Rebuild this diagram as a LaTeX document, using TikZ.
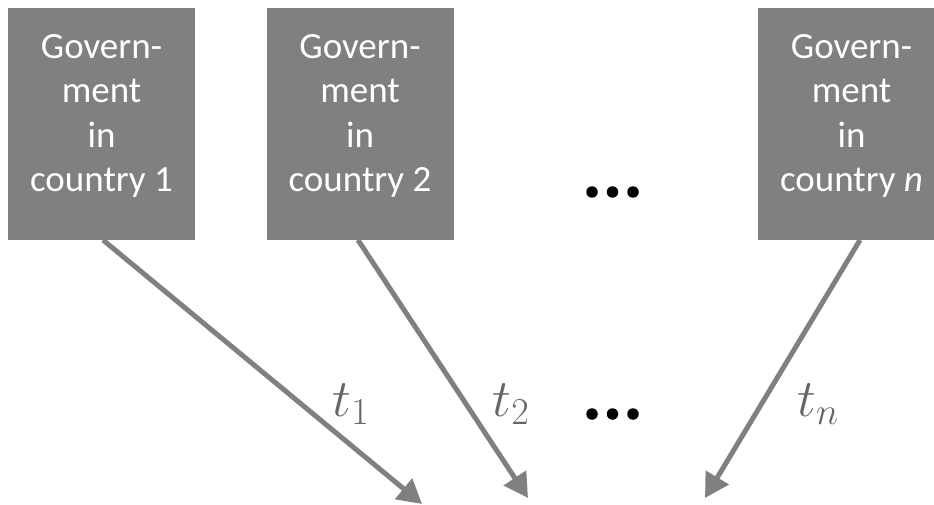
\RequirePackage{fix-cm}
\documentclass[tikz,border=0pt]{standalone}
\usepackage{fontspec}
\setmainfont{Carlito}
\usetikzlibrary{arrows.meta}
\definecolor{boxgray}{HTML}{808080}
\definecolor{labgray}{HTML}{666666}
\DeclareMathSizes{53}{53}{38}{27}
\tikzset{
  govbox/.style={rectangle, fill=boxgray, draw=none, minimum width=187pt, minimum height=232pt, inner sep=0pt},
  govtext/.style={text=white, align=center, font=\fontsize{37}{44.5}\selectfont, inner sep=0pt},
  flow/.style={draw=boxgray, line width=5pt, -{Triangle[length=24pt,width=26pt]}},
  tlab/.style={text=labgray, font=\fontsize{53}{58}\selectfont, inner sep=0pt},
  dotmark/.style={circle, fill=black, minimum size=11.5pt, inner sep=0pt}
}
\begin{document}
\begin{tikzpicture}[x=1pt,y=-1pt]
\useasboundingbox (0,0) rectangle (934,505);
\node[govbox] (b1) at (101.5,124) {};
\node[govbox] (b2) at (360,124) {};
\node[govbox] (b3) at (851.5,124) {};
\node[govtext] (g1) at (101.5,116) {Govern-\\ment\\in\\country 1};
\node[govtext] (g2) at (360,116) {Govern-\\ment\\in\\country 2};
\node[govtext] (g3) at (851.5,116) {Govern-\\ment\\in\\country \textit{n}};
% dots
\node[dotmark] (d1) at (592,192) {};
\node[dotmark] (d2) at (612.5,192) {};
\node[dotmark] (d3) at (633,192) {};
\node[dotmark] (e1) at (592,414) {};
\node[dotmark] (e2) at (612.5,414) {};
\node[dotmark] (e3) at (633,414) {};
% targets
\coordinate (p1) at (422,504);
\coordinate (p2) at (528,498);
\coordinate (p3) at (705,498);
\coordinate (s1) at (103,240);
\coordinate (s2) at (358,240);
\coordinate (s3) at (860,240);
\draw[flow] (s1) -- (p1);
\draw[flow] (s2) -- (p2);
\draw[flow] (s3) -- (p3);
\node[tlab] (t1) at (351,404) {$t_1$};
\node[tlab] (t2) at (511,404) {$t_2$};
\node[tlab] (tn) at (818,404) {$t_n$};
\end{tikzpicture}
\end{document}
